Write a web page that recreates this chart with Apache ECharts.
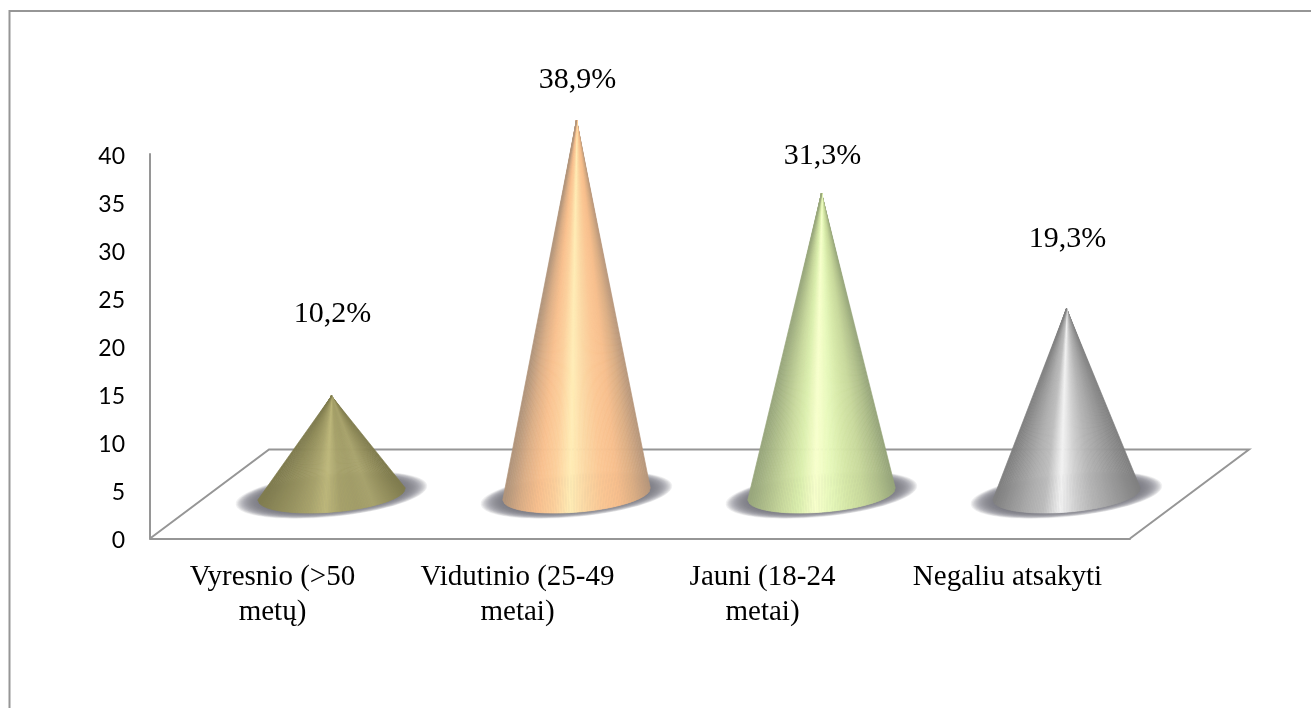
<!DOCTYPE html>
<html>
<head>
<meta charset="utf-8">
<style>html,body{margin:0;padding:0;background:#fff}#chart{width:1311px;height:708px}</style>
<script src="https://cdn.jsdelivr.net/npm/echarts@6/dist/echarts.min.js"></script>
</head>
<body>
<div id="chart"></div>
<script>
// Age groups and their shares, in percent
const categories = ['Vyresnio (>50\nmetų)', 'Vidutinio (25-49\nmetai)', 'Jauni (18-24\nmetai)', 'Negaliu atsakyti'];
const shares = [10.2, 38.9, 31.3, 19.3];
const yTicks = { min: 0, max: 40, interval: 5 };

// Colour ramps across each cone, left silhouette to right silhouette
const coneRamps = [
  ['#7f7b4d', '#948f5c', '#a8a36d', '#a39e68', '#a6a16a', '#bdb77b', '#a8a36c', '#9a9561', '#8d8958', '#7f7b4e'],
  ['#b5967a', '#dcae84', '#f7bf8d', '#fbc794', '#fbd7a3', '#ffecb5', '#fcd09c', '#f8c08e', '#dcae86', '#b0947a'],
  ['#95a479', '#b2c18c', '#c8d99c', '#d6e8a8', '#e6f8ba', '#f8ffcc', '#dcefae', '#c9da9e', '#b1c08c', '#98a67c'],
  ['#7f7f7f', '#929292', '#a4a4a4', '#b6b6b6', '#cfcfcf', '#f2f2f2', '#bebebe', '#adadad', '#989898', '#808080']
];

// Plot box and the depth of the floor behind it
const plot = { left: 150, right: 1130, top: 154, floorY: 538.5 };
const depth = { x: 119, y: 89 };
const coneShift = { x: 59, y: 44.5 };
const tilt = -4.7 * Math.PI / 180;
const labelLift = [82, 40, 37, 69];

const frameColor = '#969696';
const W = 1311, H = 708;

function renderCone(params, api) {
  const idx = api.value(0);
  const value = api.value(1);
  const apex = api.coord([idx, value]);
  const base = api.coord([idx, 0]);
  const a = api.size([1, 0])[0] * 0.302;
  const b = a * 0.245;
  const cos = Math.cos(tilt), sin = Math.sin(tilt);
  const rim = t => [
    base[0] + a * Math.cos(t) * cos - b * Math.sin(t) * sin,
    base[1] + a * Math.cos(t) * sin + b * Math.sin(t) * cos
  ];
  const children = [];
  // Soft contact shadow on the floor: nested ellipses that build up towards the middle
  const shadowSteps = 22;
  for (let k = 0; k < shadowSteps; k++) {
    const f = k / (shadowSteps - 1);
    children.push({
      type: 'ellipse',
      silent: true,
      shape: {
        cx: base[0],
        cy: base[1] + 1,
        rx: a * (1.3 - 0.32 * f),
        ry: b * (1.2 - 0.32 * f)
      },
      rotation: -tilt * 1.2,
      originX: base[0],
      originY: base[1] + 1,
      style: { fill: 'rgba(122,122,128,0.11)' }
    });
  }
  // The cone is a fan of thin facets from the apex to the visible rim
  const ramp = coneRamps[idx];
  const facets = 90;
  const at = u => {
    // u runs 0..1 across the silhouette, left to right
    const t = Math.PI - Math.acos(Math.max(-1, Math.min(1, 2 * u - 1)));
    return rim(t);
  };
  for (let i = 0; i < facets; i++) {
    const color = echarts.color.lerp((i + 0.5) / facets, ramp);
    const p0 = at(i / facets), p1 = at((i + 1) / facets);
    children.push({
      type: 'polygon',
      shape: { points: [apex, p0, p1] },
      style: { fill: color, stroke: color, lineWidth: 0.7 }
    });
  }
  children.push({
    type: 'text',
    style: {
      text: value.toFixed(1).replace('.', ',') + '%',
      x: apex[0] + 1,
      y: apex[1] - labelLift[idx],
      align: 'center',
      verticalAlign: 'middle',
      font: '30px "Liberation Serif"',
      fill: '#000'
    }
  });
  return { type: 'group', children };
}

const chart = echarts.init(document.getElementById('chart'), null, { renderer: 'canvas' });
const axisLine = { show: true, onZero: false, lineStyle: { color: frameColor, width: 2 } };
const fp = plot.floorY;

chart.setOption({
  animation: false,
  backgroundColor: '#fff',
  grid: [
    { left: plot.left, top: plot.top, width: plot.right - plot.left, height: plot.floorY - plot.top },
    {
      left: plot.left + coneShift.x,
      top: plot.top - coneShift.y,
      width: plot.right - plot.left,
      height: plot.floorY - plot.top
    }
  ],
  xAxis: [
    {
      type: 'category', gridIndex: 0, data: categories,
      axisLine, axisTick: { show: false },
      axisLabel: {
        margin: 21, interval: 0, color: '#000', lineHeight: 35,
        fontFamily: 'Liberation Serif', fontSize: 29
      }
    },
    { type: 'category', gridIndex: 1, data: categories, show: false }
  ],
  yAxis: [
    {
      type: 'value', gridIndex: 0, ...yTicks,
      axisLine, axisTick: { show: false }, splitLine: { show: false },
      axisLabel: {
        margin: 25, verticalAlign: 'top', lineHeight: 5,
        color: '#000', fontFamily: 'Lato', fontSize: 23
      }
    },
    { type: 'value', gridIndex: 1, ...yTicks, show: false, splitLine: { show: false } }
  ],
  graphic: [
    {
      // Outer frame: left and top edges only
      type: 'polyline', z: -1, silent: true,
      shape: { points: [[9.5, H], [9.5, 11], [W, 11]] },
      style: { fill: 'none', stroke: frameColor, lineWidth: 2 }
    },
    {
      type: 'polyline', z: -1, silent: true,
      shape: { points: [
        [plot.left, fp], [plot.left + depth.x, fp - depth.y],
        [plot.right + depth.x, fp - depth.y], [plot.right, fp]
      ] },
      style: { fill: 'none', stroke: frameColor, lineWidth: 2 }
    }
  ],
  series: [{
    type: 'custom',
    xAxisIndex: 1,
    yAxisIndex: 1,
    z: 5,
    clip: false,
    encode: { x: 0, y: 1 },
    data: shares.map((v, i) => [i, v]),
    renderItem: renderCone
  }]
});
</script>
</body>
</html>
